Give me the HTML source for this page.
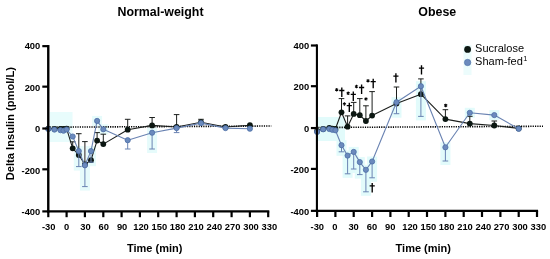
<!DOCTYPE html>
<html><head><meta charset="utf-8"><title>Delta Insulin</title>
<style>
html,body{margin:0;padding:0;background:#fff;}
body{width:550px;height:259px;overflow:hidden;}
svg{display:block;will-change:transform;}
text{font-family:"Liberation Sans",sans-serif;fill:#000;}
.ti{font-size:12.4px;font-weight:bold;}
.tk{font-size:9.4px;font-weight:bold;}
.yl{font-size:11px;font-weight:bold;}
.lg{font-size:11px;fill:#050505;}
.st{font-size:8px;font-weight:bold;}
</style></head><body>
<svg width="550" height="259" viewBox="0 0 550 259">
<rect width="550" height="259" fill="#fff"/>
<text x="160.5" y="15.7" text-anchor="middle" class="ti">Normal-weight</text>
<text x="437.3" y="15.7" text-anchor="middle" class="ti">Obese</text>
<text transform="translate(13.7,123.65) rotate(-90)" text-anchor="middle" class="yl" style="font-size:11.13px">Delta Insulin (pmol/L)</text>
<text x="154.7" y="252" text-anchor="middle" class="yl">Time (min)</text>
<text x="423.3" y="251.8" text-anchor="middle" class="yl">Time (min)</text>
<rect x="336.5" y="140.2" width="10" height="15.6" fill="#e2fbfb"/>
<rect x="342.6" y="150.6" width="10" height="27.2" fill="#e2fbfb"/>
<rect x="348.7" y="146.9" width="10" height="26.1" fill="#e2fbfb"/>
<rect x="354.8" y="157.1" width="10" height="21.5" fill="#e2fbfb"/>
<rect x="360.9" y="164.8" width="10" height="31.0" fill="#e2fbfb"/>
<rect x="367.1" y="156.5" width="10" height="25.3" fill="#e2fbfb"/>
<rect x="391.5" y="97.2" width="10" height="20.5" fill="#e2fbfb"/>
<rect x="415.9" y="81.2" width="10" height="39.2" fill="#e2fbfb"/>
<rect x="440.4" y="142.3" width="10" height="22.7" fill="#e2fbfb"/>
<rect x="464.8" y="107.8" width="10" height="10.0" fill="#e2fbfb"/>
<rect x="489.3" y="110.1" width="10" height="10.0" fill="#e2fbfb"/>
<rect x="318" y="117" width="27" height="24" fill="#e2fbfb"/>
<rect x="463.5" y="45" width="8" height="30" fill="#ecfcfc"/>
<rect x="73.8" y="146.1" width="10" height="24.5" fill="#e6fbfb"/>
<rect x="79.9" y="160.3" width="10" height="30.3" fill="#e6fbfb"/>
<rect x="86.0" y="146.1" width="10" height="20.1" fill="#e6fbfb"/>
<rect x="92.1" y="115.9" width="10" height="10.0" fill="#e6fbfb"/>
<rect x="98.3" y="124.3" width="10" height="10.0" fill="#e6fbfb"/>
<rect x="147.1" y="127.7" width="10" height="25.3" fill="#e6fbfb"/>
<rect x="49.5" y="112" width="23" height="30" fill="#e8fcfc"/>
<path d="M49.5 127.2L271.3 126" stroke="#000" stroke-width="1.6" stroke-dasharray="1.2 1.13" fill="none"/>
<path d="M318.3 127.5L543 126.25" stroke="#000" stroke-width="1.6" stroke-dasharray="1.2 1.13" fill="none"/>
<path d="M72.7 148.3V141.8M69.9 141.8H75.5" stroke="#1c1f1d" stroke-width="1.0" fill="none"/>
<path d="M78.8 155.0V133.7M76.0 133.7H81.6" stroke="#1c1f1d" stroke-width="1.0" fill="none"/>
<path d="M84.9 164.5V141.6M82.1 141.6H87.7" stroke="#1c1f1d" stroke-width="1.0" fill="none"/>
<path d="M97.1 140.6V132.6M94.3 132.6H99.9" stroke="#1c1f1d" stroke-width="1.0" fill="none"/>
<path d="M103.3 144.1V134.2M100.5 134.2H106.1" stroke="#1c1f1d" stroke-width="1.0" fill="none"/>
<path d="M127.7 129.7V119.3M124.9 119.3H130.5" stroke="#1c1f1d" stroke-width="1.0" fill="none"/>
<path d="M152.1 125.4V117.5M149.3 117.5H154.9" stroke="#1c1f1d" stroke-width="1.0" fill="none"/>
<path d="M176.6 127.0V114.6M173.8 114.6H179.4" stroke="#1c1f1d" stroke-width="1.0" fill="none"/>
<path d="M201.0 122.2V119.3M198.2 119.3H203.8" stroke="#1c1f1d" stroke-width="1.0" fill="none"/>
<path d="M48.3 128.6 L54.4 128.8 L60.5 128.8 L63.5 129.0 L66.6 128.6 L72.7 148.3 L78.8 155.0 L84.9 164.5 L91.0 160.2 L97.1 140.6 L103.3 144.1 L127.7 129.7 L152.1 125.4 L176.6 127.0 L201.0 122.2 L225.5 127.0 L249.9 125.2" stroke="#1c1f1d" stroke-width="1.1" fill="none" stroke-linejoin="round"/>
<circle cx="48.3" cy="128.6" r="2.9" fill="#0c1712"/>
<circle cx="54.4" cy="128.8" r="2.9" fill="#0c1712"/>
<circle cx="60.5" cy="128.8" r="2.9" fill="#0c1712"/>
<circle cx="63.5" cy="129.0" r="2.9" fill="#0c1712"/>
<circle cx="66.6" cy="128.6" r="2.9" fill="#0c1712"/>
<circle cx="72.7" cy="148.3" r="2.9" fill="#0c1712"/>
<circle cx="78.8" cy="155.0" r="2.9" fill="#0c1712"/>
<circle cx="84.9" cy="164.5" r="2.9" fill="#0c1712"/>
<circle cx="91.0" cy="160.2" r="2.9" fill="#0c1712"/>
<circle cx="97.1" cy="140.6" r="2.9" fill="#0c1712"/>
<circle cx="103.3" cy="144.1" r="2.9" fill="#0c1712"/>
<circle cx="127.7" cy="129.7" r="2.9" fill="#0c1712"/>
<circle cx="152.1" cy="125.4" r="2.9" fill="#0c1712"/>
<circle cx="176.6" cy="127.0" r="2.9" fill="#0c1712"/>
<circle cx="201.0" cy="122.2" r="2.9" fill="#0c1712"/>
<circle cx="225.5" cy="127.0" r="2.9" fill="#0c1712"/>
<circle cx="249.9" cy="125.2" r="2.9" fill="#0c1712"/>
<path d="M78.8 151.1V166.6M76.0 166.6H81.6" stroke="#6a83b2" stroke-width="1.0" fill="none"/>
<path d="M84.9 165.3V186.6M82.1 186.6H87.7" stroke="#6a83b2" stroke-width="1.0" fill="none"/>
<path d="M91.0 151.1V162.2M88.2 162.2H93.8" stroke="#6a83b2" stroke-width="1.0" fill="none"/>
<path d="M127.7 140.2V149.0M124.9 149.0H130.5" stroke="#6a83b2" stroke-width="1.0" fill="none"/>
<path d="M152.1 132.7V149.0M149.3 149.0H154.9" stroke="#6a83b2" stroke-width="1.0" fill="none"/>
<path d="M176.6 128.1V132.6M173.8 132.6H179.4" stroke="#6a83b2" stroke-width="1.0" fill="none"/>
<path d="M48.3 129.0 L54.4 129.6 L60.5 130.2 L63.5 130.7 L66.6 129.5 L72.7 136.5 L78.8 151.1 L84.9 165.3 L91.0 151.1 L97.1 120.9 L103.3 129.3 L127.7 140.2 L152.1 132.7 L176.6 128.1 L201.0 123.1 L225.5 128.1 L249.9 128.7" stroke="#6a83b2" stroke-width="1.1" fill="none" stroke-linejoin="round"/>
<circle cx="48.3" cy="129.0" r="2.6" fill="#6b8abd" stroke="#4b6fa6" stroke-width="0.8"/>
<circle cx="54.4" cy="129.6" r="2.6" fill="#6b8abd" stroke="#4b6fa6" stroke-width="0.8"/>
<circle cx="60.5" cy="130.2" r="2.6" fill="#6b8abd" stroke="#4b6fa6" stroke-width="0.8"/>
<circle cx="63.5" cy="130.7" r="2.6" fill="#6b8abd" stroke="#4b6fa6" stroke-width="0.8"/>
<circle cx="66.6" cy="129.5" r="2.6" fill="#6b8abd" stroke="#4b6fa6" stroke-width="0.8"/>
<circle cx="72.7" cy="136.5" r="2.6" fill="#6b8abd" stroke="#4b6fa6" stroke-width="0.8"/>
<circle cx="78.8" cy="151.1" r="2.6" fill="#6b8abd" stroke="#4b6fa6" stroke-width="0.8"/>
<circle cx="84.9" cy="165.3" r="2.6" fill="#6b8abd" stroke="#4b6fa6" stroke-width="0.8"/>
<circle cx="91.0" cy="151.1" r="2.6" fill="#6b8abd" stroke="#4b6fa6" stroke-width="0.8"/>
<circle cx="97.1" cy="120.9" r="2.6" fill="#6b8abd" stroke="#4b6fa6" stroke-width="0.8"/>
<circle cx="103.3" cy="129.3" r="2.6" fill="#6b8abd" stroke="#4b6fa6" stroke-width="0.8"/>
<circle cx="127.7" cy="140.2" r="2.6" fill="#6b8abd" stroke="#4b6fa6" stroke-width="0.8"/>
<circle cx="152.1" cy="132.7" r="2.6" fill="#6b8abd" stroke="#4b6fa6" stroke-width="0.8"/>
<circle cx="176.6" cy="128.1" r="2.6" fill="#6b8abd" stroke="#4b6fa6" stroke-width="0.8"/>
<circle cx="201.0" cy="123.1" r="2.6" fill="#6b8abd" stroke="#4b6fa6" stroke-width="0.8"/>
<circle cx="225.5" cy="128.1" r="2.6" fill="#6b8abd" stroke="#4b6fa6" stroke-width="0.8"/>
<circle cx="249.9" cy="128.7" r="2.6" fill="#6b8abd" stroke="#4b6fa6" stroke-width="0.8"/>
<path d="M48.27 45.05V212.50" stroke="#000" stroke-width="2.4" fill="none"/>
<path d="M47.1 211.4H269.3" stroke="#000" stroke-width="2.1" fill="none"/>
<path d="M42.3 46.15H48.3" stroke="#000" stroke-width="2.2"/>
<text x="40.3" y="49.10" text-anchor="end" class="tk">400</text>
<path d="M42.3 86.65H48.3" stroke="#000" stroke-width="2.2"/>
<text x="40.3" y="90.70" text-anchor="end" class="tk">200</text>
<path d="M42.3 128.5H48.3" stroke="#000" stroke-width="2.2"/>
<text x="40.3" y="132.20" text-anchor="end" class="tk">0</text>
<path d="M42.3 169.3H48.3" stroke="#000" stroke-width="2.2"/>
<text x="40.3" y="173.80" text-anchor="end" class="tk">-200</text>
<path d="M42.3 211.4H48.3" stroke="#000" stroke-width="2.2"/>
<text x="40.3" y="215.20" text-anchor="end" class="tk">-400</text>
<path d="M48.3 211.4V217.20" stroke="#000" stroke-width="2.2"/>
<text x="48.7" y="230.1" text-anchor="middle" class="tk">-30</text>
<path d="M66.6 211.4V217.20" stroke="#000" stroke-width="2.2"/>
<text x="66.6" y="230.1" text-anchor="middle" class="tk">0</text>
<path d="M84.9 211.4V217.20" stroke="#000" stroke-width="2.2"/>
<text x="85.4" y="230.1" text-anchor="middle" class="tk">30</text>
<path d="M103.3 211.4V217.20" stroke="#000" stroke-width="2.2"/>
<text x="103.8" y="230.1" text-anchor="middle" class="tk">60</text>
<path d="M121.6 211.4V217.20" stroke="#000" stroke-width="2.2"/>
<text x="122.1" y="230.1" text-anchor="middle" class="tk">90</text>
<path d="M139.9 211.4V217.20" stroke="#000" stroke-width="2.2"/>
<text x="141.0" y="230.1" text-anchor="middle" class="tk">120</text>
<path d="M158.2 211.4V217.20" stroke="#000" stroke-width="2.2"/>
<text x="159.3" y="230.1" text-anchor="middle" class="tk">150</text>
<path d="M176.6 211.4V217.20" stroke="#000" stroke-width="2.2"/>
<text x="177.7" y="230.1" text-anchor="middle" class="tk">180</text>
<path d="M194.9 211.4V217.20" stroke="#000" stroke-width="2.2"/>
<text x="196.0" y="230.1" text-anchor="middle" class="tk">210</text>
<path d="M213.2 211.4V217.20" stroke="#000" stroke-width="2.2"/>
<text x="214.3" y="230.1" text-anchor="middle" class="tk">240</text>
<path d="M231.6 211.4V217.20" stroke="#000" stroke-width="2.2"/>
<text x="232.7" y="230.1" text-anchor="middle" class="tk">270</text>
<path d="M249.9 211.4V217.20" stroke="#000" stroke-width="2.2"/>
<text x="251.0" y="230.1" text-anchor="middle" class="tk">300</text>
<path d="M268.2 211.4V217.20" stroke="#000" stroke-width="2.2"/>
<text x="269.3" y="230.1" text-anchor="middle" class="tk">330</text>
<path d="M341.5 112.3V98.6M338.7 98.6H344.3" stroke="#1c1f1d" stroke-width="1.0" fill="none"/>
<path d="M347.6 126.7V115.9M344.8 115.9H350.4" stroke="#1c1f1d" stroke-width="1.0" fill="none"/>
<path d="M353.7 113.9V102.4M350.9 102.4H356.5" stroke="#1c1f1d" stroke-width="1.0" fill="none"/>
<path d="M359.8 115.2V98.6M357.0 98.6H362.6" stroke="#1c1f1d" stroke-width="1.0" fill="none"/>
<path d="M365.9 121.0V105.8M363.1 105.8H368.8" stroke="#1c1f1d" stroke-width="1.0" fill="none"/>
<path d="M372.1 115.6V91.6M369.3 91.6H374.9" stroke="#1c1f1d" stroke-width="1.0" fill="none"/>
<path d="M396.5 103.5V87.0M393.7 87.0H399.3" stroke="#1c1f1d" stroke-width="1.0" fill="none"/>
<path d="M420.9 94.2V78.9M418.1 78.9H423.7" stroke="#1c1f1d" stroke-width="1.0" fill="none"/>
<path d="M445.4 119.1V109.7M442.6 109.7H448.2" stroke="#1c1f1d" stroke-width="1.0" fill="none"/>
<path d="M469.8 123.6V116.3M467.0 116.3H472.6" stroke="#1c1f1d" stroke-width="1.0" fill="none"/>
<path d="M494.3 125.5V121.0M491.5 121.0H497.1" stroke="#1c1f1d" stroke-width="1.0" fill="none"/>
<path d="M317.1 131.0 L323.2 129.0 L329.3 128.0 L332.3 128.6 L335.4 129.0 L341.5 112.3 L347.6 126.7 L353.7 113.9 L359.8 115.2 L365.9 121.0 L372.1 115.6 L396.5 103.5 L420.9 94.2 L445.4 119.1 L469.8 123.6 L494.3 125.5 L518.7 128.4" stroke="#1c1f1d" stroke-width="1.1" fill="none" stroke-linejoin="round"/>
<circle cx="317.1" cy="131.0" r="2.9" fill="#0c1712"/>
<circle cx="323.2" cy="129.0" r="2.9" fill="#0c1712"/>
<circle cx="329.3" cy="128.0" r="2.9" fill="#0c1712"/>
<circle cx="332.3" cy="128.6" r="2.9" fill="#0c1712"/>
<circle cx="335.4" cy="129.0" r="2.9" fill="#0c1712"/>
<circle cx="341.5" cy="112.3" r="2.9" fill="#0c1712"/>
<circle cx="347.6" cy="126.7" r="2.9" fill="#0c1712"/>
<circle cx="353.7" cy="113.9" r="2.9" fill="#0c1712"/>
<circle cx="359.8" cy="115.2" r="2.9" fill="#0c1712"/>
<circle cx="365.9" cy="121.0" r="2.9" fill="#0c1712"/>
<circle cx="372.1" cy="115.6" r="2.9" fill="#0c1712"/>
<circle cx="396.5" cy="103.5" r="2.9" fill="#0c1712"/>
<circle cx="420.9" cy="94.2" r="2.9" fill="#0c1712"/>
<circle cx="445.4" cy="119.1" r="2.9" fill="#0c1712"/>
<circle cx="469.8" cy="123.6" r="2.9" fill="#0c1712"/>
<circle cx="494.3" cy="125.5" r="2.9" fill="#0c1712"/>
<circle cx="518.7" cy="128.4" r="2.9" fill="#0c1712"/>
<path d="M341.5 145.2V151.8M338.7 151.8H344.3" stroke="#6a83b2" stroke-width="1.0" fill="none"/>
<path d="M347.6 155.6V173.8M344.8 173.8H350.4" stroke="#6a83b2" stroke-width="1.0" fill="none"/>
<path d="M353.7 151.9V169.0M350.9 169.0H356.5" stroke="#6a83b2" stroke-width="1.0" fill="none"/>
<path d="M359.8 162.1V174.6M357.0 174.6H362.6" stroke="#6a83b2" stroke-width="1.0" fill="none"/>
<path d="M365.9 169.8V191.8M363.1 191.8H368.8" stroke="#6a83b2" stroke-width="1.0" fill="none"/>
<path d="M372.1 161.5V177.8M369.3 177.8H374.9" stroke="#6a83b2" stroke-width="1.0" fill="none"/>
<path d="M396.5 102.2V113.7M393.7 113.7H399.3" stroke="#6a83b2" stroke-width="1.0" fill="none"/>
<path d="M420.9 86.2V116.4M418.1 116.4H423.7" stroke="#6a83b2" stroke-width="1.0" fill="none"/>
<path d="M445.4 147.3V161.0M442.6 161.0H448.2" stroke="#6a83b2" stroke-width="1.0" fill="none"/>
<path d="M317.1 131.9 L323.2 129.3 L329.3 129.0 L332.3 129.8 L335.4 130.3 L341.5 145.2 L347.6 155.6 L353.7 151.9 L359.8 162.1 L365.9 169.8 L372.1 161.5 L396.5 102.2 L420.9 86.2 L445.4 147.3 L469.8 112.8 L494.3 115.1 L518.7 128.8" stroke="#6a83b2" stroke-width="1.1" fill="none" stroke-linejoin="round"/>
<circle cx="317.1" cy="131.9" r="2.6" fill="#6b8abd" stroke="#4b6fa6" stroke-width="0.8"/>
<circle cx="323.2" cy="129.3" r="2.6" fill="#6b8abd" stroke="#4b6fa6" stroke-width="0.8"/>
<circle cx="329.3" cy="129.0" r="2.6" fill="#6b8abd" stroke="#4b6fa6" stroke-width="0.8"/>
<circle cx="332.3" cy="129.8" r="2.6" fill="#6b8abd" stroke="#4b6fa6" stroke-width="0.8"/>
<circle cx="335.4" cy="130.3" r="2.6" fill="#6b8abd" stroke="#4b6fa6" stroke-width="0.8"/>
<circle cx="341.5" cy="145.2" r="2.6" fill="#6b8abd" stroke="#4b6fa6" stroke-width="0.8"/>
<circle cx="347.6" cy="155.6" r="2.6" fill="#6b8abd" stroke="#4b6fa6" stroke-width="0.8"/>
<circle cx="353.7" cy="151.9" r="2.6" fill="#6b8abd" stroke="#4b6fa6" stroke-width="0.8"/>
<circle cx="359.8" cy="162.1" r="2.6" fill="#6b8abd" stroke="#4b6fa6" stroke-width="0.8"/>
<circle cx="365.9" cy="169.8" r="2.6" fill="#6b8abd" stroke="#4b6fa6" stroke-width="0.8"/>
<circle cx="372.1" cy="161.5" r="2.6" fill="#6b8abd" stroke="#4b6fa6" stroke-width="0.8"/>
<circle cx="396.5" cy="102.2" r="2.6" fill="#6b8abd" stroke="#4b6fa6" stroke-width="0.8"/>
<circle cx="420.9" cy="86.2" r="2.6" fill="#6b8abd" stroke="#4b6fa6" stroke-width="0.8"/>
<circle cx="445.4" cy="147.3" r="2.6" fill="#6b8abd" stroke="#4b6fa6" stroke-width="0.8"/>
<circle cx="469.8" cy="112.8" r="2.6" fill="#6b8abd" stroke="#4b6fa6" stroke-width="0.8"/>
<circle cx="494.3" cy="115.1" r="2.6" fill="#6b8abd" stroke="#4b6fa6" stroke-width="0.8"/>
<circle cx="518.7" cy="128.8" r="2.6" fill="#6b8abd" stroke="#4b6fa6" stroke-width="0.8"/>
<path d="M316.92 44.40V211.95" stroke="#000" stroke-width="2.1" fill="none"/>
<path d="M315.7 210.85H538.1" stroke="#000" stroke-width="2.1" fill="none"/>
<path d="M310.9 45.5H316.9" stroke="#000" stroke-width="2.2"/>
<text x="309.2" y="48.95" text-anchor="end" class="tk">400</text>
<path d="M310.9 86.2H316.9" stroke="#000" stroke-width="2.2"/>
<text x="309.2" y="90.40" text-anchor="end" class="tk">200</text>
<path d="M310.9 128.05H316.9" stroke="#000" stroke-width="2.2"/>
<text x="309.2" y="131.85" text-anchor="end" class="tk">0</text>
<path d="M310.9 168.9H316.9" stroke="#000" stroke-width="2.2"/>
<text x="309.2" y="173.25" text-anchor="end" class="tk">-200</text>
<path d="M310.9 210.85H316.9" stroke="#000" stroke-width="2.2"/>
<text x="309.2" y="214.90" text-anchor="end" class="tk">-400</text>
<path d="M317.1 210.85V217.00" stroke="#000" stroke-width="2.2"/>
<text x="317.3" y="230.3" text-anchor="middle" class="tk">-30</text>
<path d="M335.4 210.85V217.00" stroke="#000" stroke-width="2.2"/>
<text x="334.8" y="230.3" text-anchor="middle" class="tk">0</text>
<path d="M353.7 210.85V217.00" stroke="#000" stroke-width="2.2"/>
<text x="353.6" y="230.3" text-anchor="middle" class="tk">30</text>
<path d="M372.1 210.85V217.00" stroke="#000" stroke-width="2.2"/>
<text x="372.0" y="230.3" text-anchor="middle" class="tk">60</text>
<path d="M390.4 210.85V217.00" stroke="#000" stroke-width="2.2"/>
<text x="390.3" y="230.3" text-anchor="middle" class="tk">90</text>
<path d="M408.7 210.85V217.00" stroke="#000" stroke-width="2.2"/>
<text x="410.0" y="230.3" text-anchor="middle" class="tk">120</text>
<path d="M427.0 210.85V217.00" stroke="#000" stroke-width="2.2"/>
<text x="428.3" y="230.3" text-anchor="middle" class="tk">150</text>
<path d="M445.4 210.85V217.00" stroke="#000" stroke-width="2.2"/>
<text x="446.7" y="230.3" text-anchor="middle" class="tk">180</text>
<path d="M463.7 210.85V217.00" stroke="#000" stroke-width="2.2"/>
<text x="465.0" y="230.3" text-anchor="middle" class="tk">210</text>
<path d="M482.0 210.85V217.00" stroke="#000" stroke-width="2.2"/>
<text x="483.3" y="230.3" text-anchor="middle" class="tk">240</text>
<path d="M500.4 210.85V217.00" stroke="#000" stroke-width="2.2"/>
<text x="501.7" y="230.3" text-anchor="middle" class="tk">270</text>
<path d="M518.7 210.85V217.00" stroke="#000" stroke-width="2.2"/>
<text x="520.0" y="230.3" text-anchor="middle" class="tk">300</text>
<path d="M537.0 210.85V217.00" stroke="#000" stroke-width="2.2"/>
<text x="538.3" y="230.3" text-anchor="middle" class="tk">330</text>
<path d="M341.12 87.60h1.36v2.25h1.9v1.3h-1.9v5.85h-1.36v-5.85h-1.9v-1.3h1.9z" fill="#000"/>
<path d="M348.62 102.70h1.36v2.25h1.9v1.3h-1.9v5.85h-1.36v-5.85h-1.9v-1.3h1.9z" fill="#000"/>
<path d="M352.62 91.50h1.36v2.25h1.9v1.3h-1.9v5.85h-1.36v-5.85h-1.9v-1.3h1.9z" fill="#000"/>
<path d="M360.92 84.60h1.36v2.25h1.9v1.3h-1.9v5.85h-1.36v-5.85h-1.9v-1.3h1.9z" fill="#000"/>
<path d="M372.52 78.80h1.36v2.25h1.9v1.3h-1.9v5.85h-1.36v-5.85h-1.9v-1.3h1.9z" fill="#000"/>
<path d="M395.22 73.20h1.36v2.25h1.9v1.3h-1.9v5.85h-1.36v-5.85h-1.9v-1.3h1.9z" fill="#000"/>
<path d="M420.82 65.20h1.36v2.25h1.9v1.3h-1.9v5.85h-1.36v-5.85h-1.9v-1.3h1.9z" fill="#000"/>
<path d="M371.52 183.00h1.36v2.25h1.9v1.3h-1.9v5.85h-1.36v-5.85h-1.9v-1.3h1.9z" fill="#000"/>
<path d="M336.70 87.95L336.70 91.45M335.18 88.83L338.22 90.58M338.22 88.83L335.18 90.58" stroke="#000" stroke-width="1.05" fill="none"/>
<path d="M344.40 102.25L344.40 105.75M342.88 103.12L345.92 104.88M345.92 103.12L342.88 104.88" stroke="#000" stroke-width="1.05" fill="none"/>
<path d="M348.20 91.45L348.20 94.95M346.68 92.33L349.72 94.08M349.72 92.33L346.68 94.08" stroke="#000" stroke-width="1.05" fill="none"/>
<path d="M356.50 84.75L356.50 88.25M354.98 85.62L358.02 87.38M358.02 85.62L354.98 87.38" stroke="#000" stroke-width="1.05" fill="none"/>
<path d="M366.00 97.25L366.00 100.75M364.48 98.12L367.52 99.88M367.52 98.12L364.48 99.88" stroke="#000" stroke-width="1.05" fill="none"/>
<path d="M368.00 78.95L368.00 82.45M366.48 79.83L369.52 81.58M369.52 79.83L366.48 81.58" stroke="#000" stroke-width="1.05" fill="none"/>
<path d="M445.70 103.65L445.70 107.15M444.18 104.53L447.22 106.28M447.22 104.53L444.18 106.28" stroke="#000" stroke-width="1.05" fill="none"/>
<circle cx="467.6" cy="49.4" r="3.4" fill="#0c1712"/>
<circle cx="467.6" cy="62.5" r="3.2" fill="#6b8abd" stroke="#4b6fa6" stroke-width="0.6"/>
<text x="475.1" y="52" class="lg">Sucralose</text>
<text x="475.1" y="65.2" class="lg">Sham-fed<tspan dx="0.4" dy="-3.8" font-size="7.4">1</tspan></text>
</svg>
</body></html>
